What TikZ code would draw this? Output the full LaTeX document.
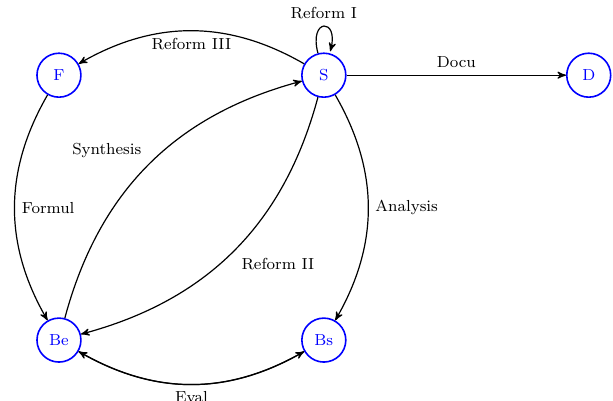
\documentclass[tikz,border=0pt]{standalone}
\usepackage{tikz}
\usetikzlibrary{arrows}

\begin{document}
\begin{tikzpicture}[>=stealth', auto, semithick, font=\footnotesize]
	\tikzset{phase/.style={circle, draw=blue, text=blue, thick, minimum size=22pt, inner sep=0pt}}
	\useasboundingbox (-1.037,-1.067) rectangle (9.747,5.983);

	% phases
	\node[phase] (F) at (0,4.66) {F};
	\node[phase] (S) at (4.66,4.66) {S};
	\node[phase] (D) at (9.32,4.66) {D};
	\node[phase] (Be) at (0,0) {Be};
	\node[phase] (Bs) at (4.66,0) {Bs};

	% transitions
	\path[->] (S) edge[loop above] node {Reform I} (S)
		(S) edge[bend right] node {Reform III} (F)
		(S) edge node {Docu} (D)
		(S) edge[bend left] node {Analysis} (Bs)
		(F) edge[bend right] node {Formul} (Be)
		(Be) edge[bend left] node {Synthesis} (S)
		(S) edge[bend left] node {Reform II} (Be)
		(Bs) edge[bend left] node {Eval} (Be)
		(Be) edge[bend right] (Bs);

\end{tikzpicture}
\end{document}
